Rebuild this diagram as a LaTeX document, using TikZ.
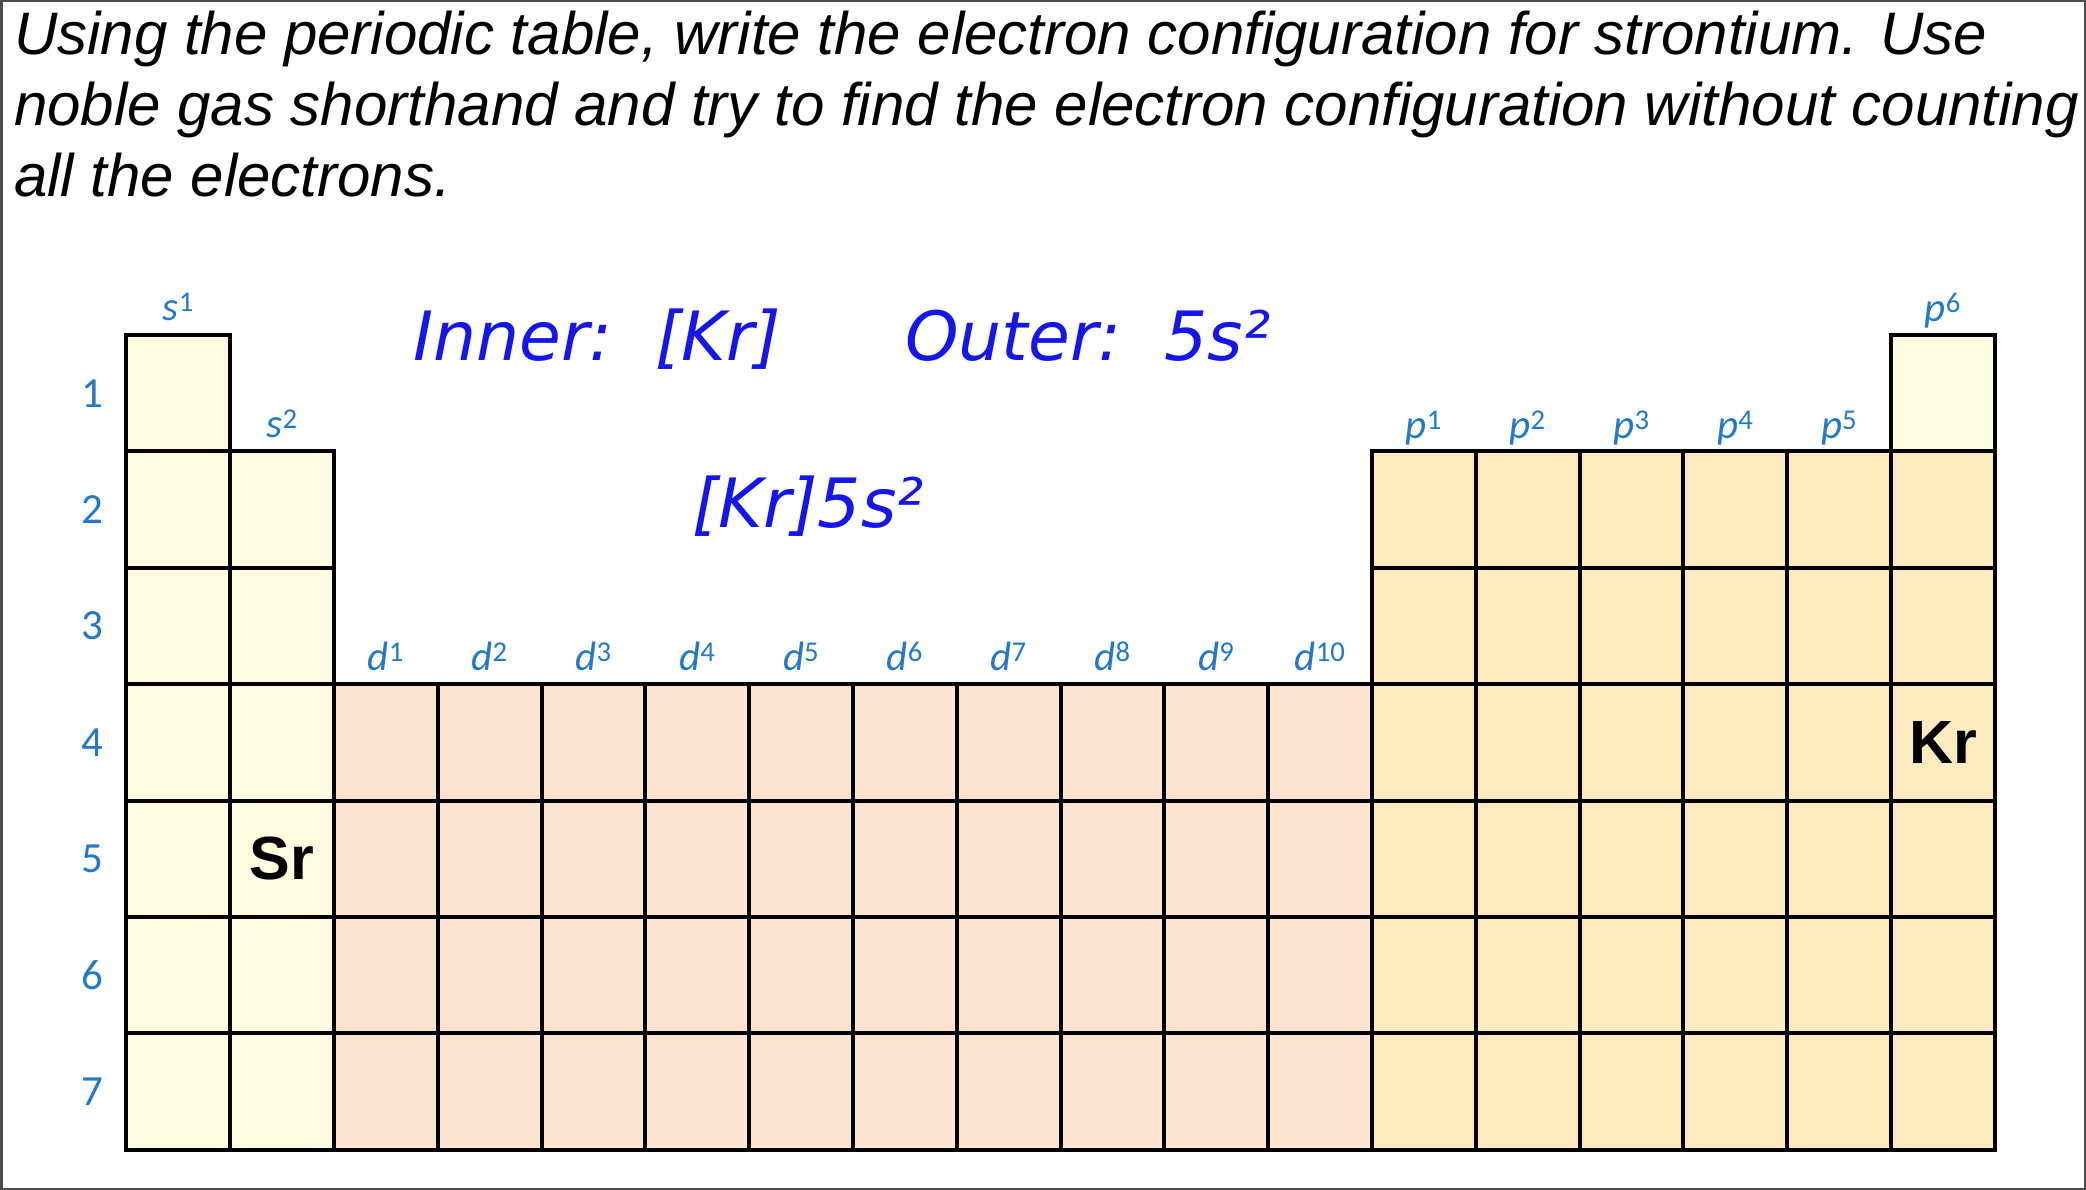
\documentclass[tikz,border=0pt]{standalone}
\usepackage{fontspec}
\setmainfont{Liberation Sans}
\newfontfamily\labelfont{Carlito}
\newfontfamily\penfont{DejaVu Sans}
\usepackage{xcolor}
\usepackage{tikz}
\usetikzlibrary{positioning}
\definecolor{sblock}{RGB}{255,251,224}
\definecolor{pblock}{RGB}{253,235,192}
\definecolor{dblock}{RGB}{252,228,208}
\definecolor{lblblue}{RGB}{36,120,200}
\definecolor{penblue}{RGB}{22,22,236}
\newcommand{\gridx}{126.4}
\newcommand{\gridy}{335}
\newcommand{\cellw}{103.8}
\newcommand{\cellh}{116.4}

\begin{document}
\begin{tikzpicture}[x=1pt, y=-1pt,
  cell/.style={draw=black, line width=4pt},
  title/.style={anchor=base west, inner sep=0pt, font=\itshape\fontsize{60}{70}\selectfont},
  pen/.style={anchor=base west, inner sep=0pt, text=penblue, font=\penfont\itshape\fontsize{68}{68}\selectfont},
  lbl/.style={anchor=base, inner sep=0pt, text=lblblue, font=\labelfont\fontsize{41}{41}\selectfont},
  rownum/.style={inner sep=0pt, text=lblblue, font=\labelfont\fontsize{43}{43}\selectfont},
  sym/.style={inner sep=0pt, font=\bfseries\fontsize{61}{61}\selectfont}]
\useasboundingbox (0,0) rectangle (2086,1190);
\draw[black!70, line width=2.5pt] (1.25,1.25) rectangle (2084.75,1188.75);
% question
\node[title] (q1) at (14,55) {Using the periodic table, write the electron configuration for strontium. Use};
\node[title] (q2) at (14,126) {noble gas shorthand and try to find the electron configuration without counting};
\node[title] (q3) at (14,197) {all the electrons.};
% handwritten answer
\node[pen] (inner) at (413,360) {Inner:\ \ [Kr]};
\node[pen] (outer) at (905,360) {Outer:\ \ 5s²};
\node[pen] (answer) at (692,527) {[Kr]5s²};
% s block
\foreach \r in {1,...,7}
  \draw[cell, fill=sblock] (\gridx,{\gridy+(\r-1)*\cellh}) rectangle ++(\cellw,\cellh);
\foreach \r in {2,...,7}
  \draw[cell, fill=sblock] ({\gridx+\cellw},{\gridy+(\r-1)*\cellh}) rectangle ++(\cellw,\cellh);
% d block
\foreach \c in {3,...,12}
  \foreach \r in {4,...,7}
    \draw[cell, fill=dblock] ({\gridx+(\c-1)*\cellw},{\gridy+(\r-1)*\cellh}) rectangle ++(\cellw,\cellh);
% p block
\foreach \c in {13,...,18}
  \foreach \r in {2,...,7}
    \draw[cell, fill=pblock] ({\gridx+(\c-1)*\cellw},{\gridy+(\r-1)*\cellh}) rectangle ++(\cellw,\cellh);
\draw[cell, fill=sblock] ({\gridx+17*\cellw},\gridy) rectangle ++(\cellw,\cellh);
% labels
\node[lbl] (s1) at ({\gridx+0.5*\cellw},{\gridy-14}) {\textit{s}\textsuperscript{1}};
\node[lbl] (s2) at ({\gridx+1.5*\cellw},{\gridy+\cellh-14}) {\textit{s}\textsuperscript{2}};
\foreach \n in {1,...,10}
  \node[lbl] (d\n) at ({\gridx+(\n+1.5)*\cellw},{\gridy+3*\cellh-14}) {\textit{d}\textsuperscript{\n}};
\foreach \n in {1,...,5}
  \node[lbl] (p\n) at ({\gridx+(\n+11.5)*\cellw},{\gridy+\cellh-13}) {\textit{p}\textsuperscript{\n}};
\node[lbl] (p6) at ({\gridx+17.5*\cellw},{\gridy-13}) {\textit{p}\textsuperscript{6}};
\foreach \r in {1,...,7}
  \node[rownum] (row\r) at (92,{\gridy+(\r-0.5)*\cellh}) {\r};
% elements
\node[sym] (sr) at ({\gridx+1.5*\cellw},{\gridy+4.5*\cellh}) {Sr};
\node[sym] (kr) at ({\gridx+17.5*\cellw},{\gridy+3.5*\cellh}) {Kr};
\end{tikzpicture}
\end{document}
